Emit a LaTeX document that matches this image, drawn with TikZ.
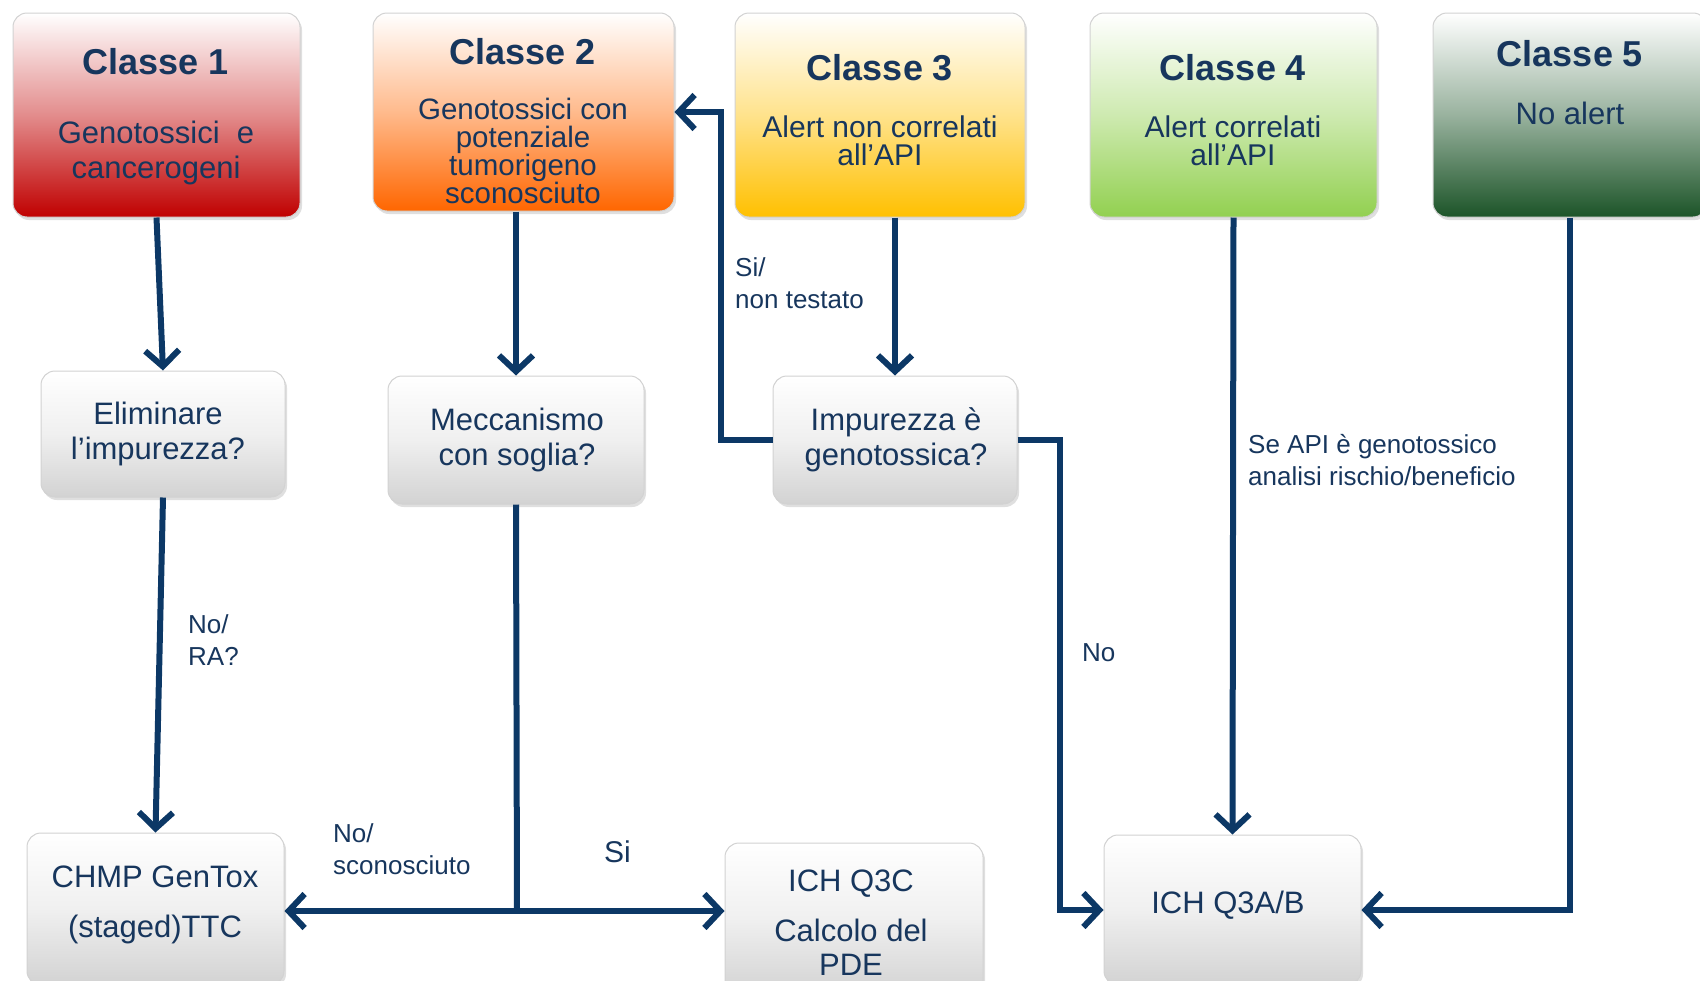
\documentclass[tikz,border=0pt]{standalone}
\usepackage{fontspec}
\setmainfont{Liberation Sans}
\usetikzlibrary{arrows.meta,shadows,calc}
\definecolor{navy}{RGB}{23,54,93}
\definecolor{linec}{RGB}{12,56,102}
\definecolor{c1col}{RGB}{192,0,0}
\definecolor{c2col}{RGB}{255,102,0}
\definecolor{c3col}{RGB}{255,192,0}
\definecolor{c4col}{RGB}{146,208,80}
\definecolor{c5col}{RGB}{28,84,40}
\begin{document}
\begin{tikzpicture}[x=1pt,y=-1pt,
  box/.style={rounded corners=14pt, draw=gray!35, line width=1pt, inner sep=0pt,
    drop shadow={opacity=0.25, shadow xshift=2pt, shadow yshift=-3pt}},
  classbox/.style={box, top color=white, bottom color=#1, middle color=#1!45!white},
  graybox/.style={box, top color=white, bottom color=gray!35, middle color=gray!12},
  title/.style={font=\bfseries\fontsize{36}{40}\selectfont, text=navy, inner sep=0pt},
  btxt/.style={font=\fontsize{31}{35}\selectfont, text=navy, align=center, inner sep=0pt},
  lbl/.style={font=\fontsize{26}{32}\selectfont, text=navy, align=left, inner sep=0pt, anchor=west},
  arr/.style={draw=linec, line width=6pt, -{Straight Barb[length=16pt,width=34pt]}},
  ln/.style={draw=linec, line width=6pt}]
\useasboundingbox (0,0) rectangle (1700,980);
% class boxes
\node[classbox=c1col, minimum width=287pt, minimum height=204pt] (c1) at (156.5,115) {};
\node[classbox=c2col, minimum width=301pt, minimum height=198pt] (c2) at (523.5,112) {};
\node[classbox=c3col, minimum width=290pt, minimum height=204pt] (c3) at (880,115) {};
\node[classbox=c4col, minimum width=287pt, minimum height=204pt] (c4) at (1233.5,115) {};
\node[classbox=c5col, minimum width=274pt, minimum height=204pt] (c5) at (1570,115) {};
% class texts
\node[title] (t1) at (156,62) {Classe 1};
\node[btxt] (s1) at (156,153) {Genotossici\ \ e\\cancerogeni};
\node[title] (t2) at (523,52) {Classe 2};
\node[btxt, font=\fontsize{29.5}{28}\selectfont] (s2) at (523,151) {Genotossici con\\potenziale\\tumorigeno\\sconosciuto};
\node[title] (t3) at (880,68) {Classe 3};
\node[btxt, font=\fontsize{30}{28}\selectfont] (s3) at (880,141) {Alert non correlati\\all’API};
\node[title] (t4) at (1233,68) {Classe 4};
\node[btxt, font=\fontsize{30}{28}\selectfont] (s4) at (1233,141) {Alert correlati\\all’API};
\node[title] (t5) at (1570,54) {Classe 5};
\node[btxt] (s5) at (1570,113) {No alert};
% middle row
\node[graybox, minimum width=244pt, minimum height=126pt] (elim) at (163,434) {};
\node[btxt] (elimt) at (158,434) {Eliminare\\l’impurezza?};
\node[graybox, minimum width=256pt, minimum height=128pt] (mecc) at (516,440) {};
\node[btxt] (mecct) at (517,440) {Meccanismo\\con soglia?};
\node[graybox, minimum width=244pt, minimum height=128pt] (imp) at (895,440) {};
\node[btxt] (impt) at (896,440) {Impurezza è\\genotossica?};
% bottom row
\node[graybox, minimum width=257pt, minimum height=152pt] (chmp) at (155.5,909) {};
\node[btxt, font=\fontsize{31}{50}\selectfont] (chmpt) at (155,905) {CHMP GenTox\\(staged)TTC};
\node[graybox, minimum width=258pt, minimum height=152pt] (q3c) at (854,919) {};
\node[btxt, font=\fontsize{31}{34}\selectfont] (q3ct) at (851,923) {ICH Q3C\\[16pt]Calcolo del\\PDE};
\node[graybox, minimum width=257pt, minimum height=150pt] (q3ab) at (1232.5,910) {};
\node[btxt] (q3abt) at (1228,905) {ICH Q3A/B};
% connectors
\draw[arr] (c1.south) -- (elim.north);
\draw[arr] (c2.south -| mecc.north) -- (mecc.north);
\draw[arr] (c3.south -| imp.north) -- (imp.north);
\draw[arr] (elim.south) -- (chmp.north);
\coordinate (j) at (517,911);
\draw[ln] (mecc.south) -- (j);
\draw[arr] (j) -- (chmp.east |- j);
\draw[arr] (j) -- (q3c.west |- j);
\coordinate (k1) at (721,440);
\draw[arr] (imp.west) -- (k1) |- (c2.east);
\coordinate (k2) at (1060,440);
\draw[arr] (imp.east) -- (k2) |- (q3ab.west);
\draw[arr] (c4.south) -- (q3ab.north);
\draw[arr] (c5.south) |- (q3ab.east);
% labels
\node[lbl] (l1) at (188,640) {No/\\RA?};
\node[lbl] (l2) at (735,283) {Si/\\non testato};
\node[lbl] (l3) at (1248,460) {Se API è genotossico\\analisi rischio/beneficio};
\node[lbl] (l4) at (1082,653) {No};
\node[lbl] (l5) at (333,849) {No/\\sconosciuto};
\node[lbl, font=\fontsize{30}{34}\selectfont] (l6) at (604,852) {Si};
\end{tikzpicture}
\end{document}
